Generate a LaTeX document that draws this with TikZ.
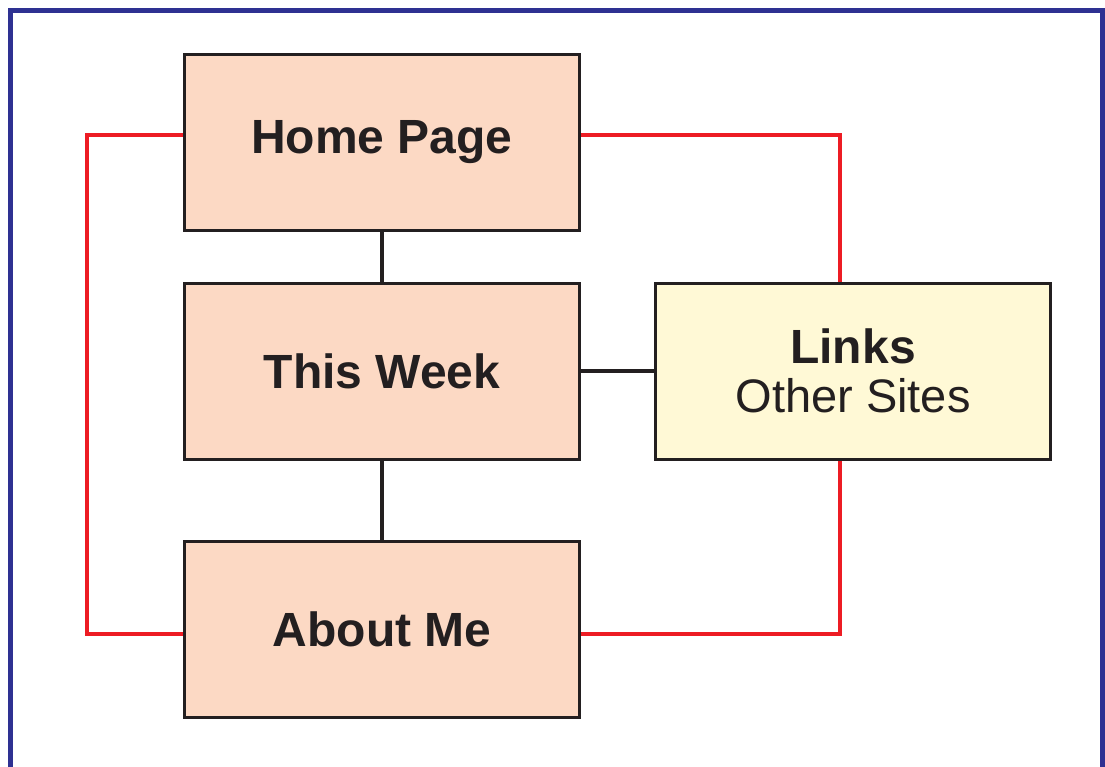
\documentclass[tikz,border=0pt]{standalone}
\usepackage{fontspec}
\setmainfont{Liberation Sans}
\definecolor{peach}{RGB}{252,217,196}
\definecolor{paleyellow}{RGB}{255,249,214}
\definecolor{linkred}{RGB}{237,28,36}
\definecolor{frameblue}{RGB}{46,49,146}
\definecolor{edgegray}{RGB}{35,31,32}
\tikzset{
  pagebox/.style={draw=edgegray, line width=3pt, fill=peach, minimum width=395pt, minimum height=176pt, inner sep=0pt, font=\fontsize{48}{49}\selectfont\bfseries, text=edgegray},
  linkbox/.style={pagebox, fill=paleyellow, font=\fontsize{47}{49}\selectfont, align=center},
  conn/.style={draw=edgegray, line width=3.5pt},
  redlink/.style={draw=linkred, line width=4pt},
  framestyle/.style={draw=frameblue, line width=5pt}
}
\begin{document}
\begin{tikzpicture}[x=1pt, y=-1pt]
\useasboundingbox (0,0) rectangle (1105,766);
\clip (0,0) rectangle (1105,766);
\draw[framestyle] (10,790) -- (10,10) -- (1102,10) -- (1102,790);
\node[pagebox] (home) at (382,142.5) {Home Page};
\node[pagebox] (week) at (382,371) {This Week};
\node[pagebox] (about) at (382,629) {About Me};
\node[linkbox] (links) at (853,371) {{\fontsize{48}{49}\selectfont\bfseries Links}\\Other Sites};
\draw[conn] (home.south) -- (week.north);
\draw[conn] (week.south) -- (about.north);
\draw[conn] (week.east) -- (links.west);
\draw[redlink] ([yshift=7.5pt]home.west) -- ++(-96,0) |- ([yshift=-5pt]about.west);
\draw[redlink] ([yshift=7.5pt]home.east) -| ([xshift=-13pt]links.north);
\draw[redlink] ([xshift=-13pt]links.south) |- ([yshift=-5pt]about.east);
\end{tikzpicture}
\end{document}
